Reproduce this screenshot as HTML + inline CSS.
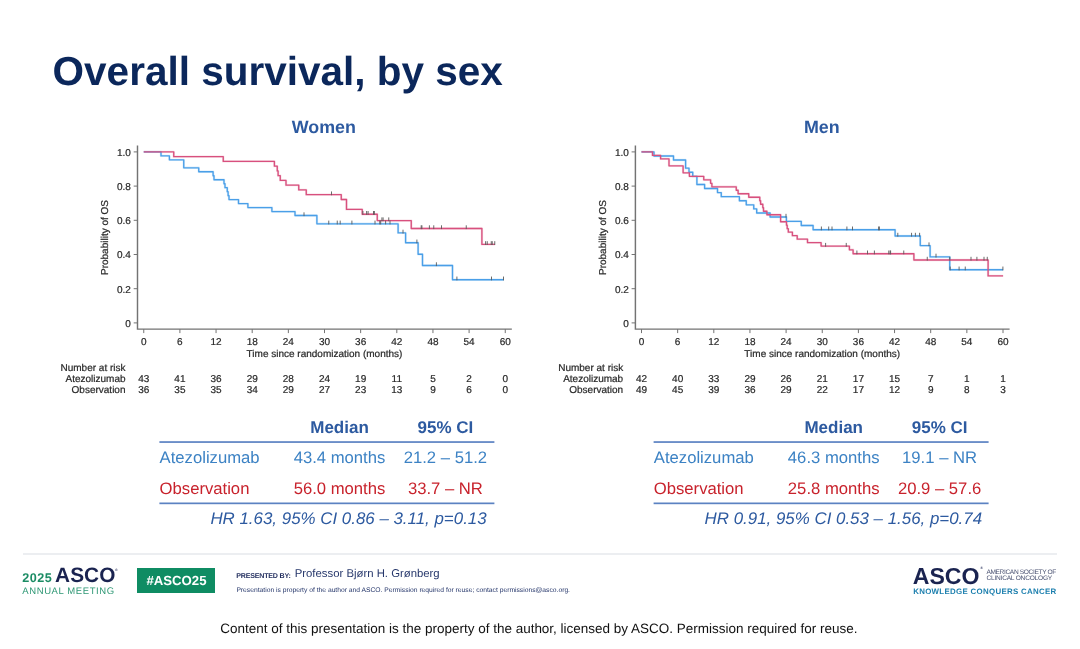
<!DOCTYPE html>
<html lang="en">
<head>
<meta charset="utf-8">
<title>Overall survival, by sex</title>
<style>
html,body{margin:0;padding:0;background:#fff;}
body{width:1080px;height:649px;overflow:hidden;position:relative;text-rendering:geometricPrecision;font-family:"Liberation Sans",Arial,sans-serif;}
#slide{position:absolute;left:0;top:0;width:1080px;height:649px;background:#fff;overflow:hidden;}
.abs{position:absolute;white-space:nowrap;line-height:1;}
h1{position:absolute;left:52.6px;top:50.7px;margin:0;font-size:40.5px;line-height:1;font-weight:700;color:#0b275b;white-space:nowrap;letter-spacing:0;}
.ptitle{font-size:17.85px;font-weight:700;color:#2d5aa0;transform:translateX(-50%);}
svg{position:absolute;left:0;top:0;}
svg text{font-family:"Liberation Sans",Arial,sans-serif;text-rendering:geometricPrecision;}
.ax{font-size:10px;fill:#2a2a2a;stroke:#2a2a2a;stroke-width:0.22px;}
.th{font-size:17px;font-weight:700;color:#2d5aa0;}
.tb{font-size:16.67px;color:#3c82c4;}
.tr{font-size:16.67px;color:#c8222c;}
.hr{font-size:16.9px;font-style:italic;color:#2d5aa0;}
.c{transform:translateX(-50%);}
.rule{position:absolute;height:1.4px;background:#5b82c2;}
.foot{font-size:13.49px;color:#111;}
</style>
</head>
<body>
<div id="slide">
<h1>Overall survival, by sex</h1>
<div class="abs ptitle" style="left:323.9px;top:119px;">Women</div>
<div class="abs ptitle" style="left:821.8px;top:119px;">Men</div>

<svg width="1080" height="649" viewBox="0 0 1080 649">
<path d="M137.5,145.6V329.1H511.85" fill="none" stroke="#737373" stroke-width="1.45"/>
<path d="M137.5,151.90h-3.8M137.5,186.10h-3.8M137.5,220.30h-3.8M137.5,254.50h-3.8M137.5,288.70h-3.8M137.5,322.90h-3.8M143.75,329.1v4M179.90,329.1v4M216.05,329.1v4M252.20,329.1v4M288.35,329.1v4M324.50,329.1v4M360.65,329.1v4M396.80,329.1v4M432.95,329.1v4M469.10,329.1v4M505.25,329.1v4" fill="none" stroke="#737373" stroke-width="1"/>
<text x="130.90" y="155.70" text-anchor="end" class="ax">1.0</text>
<text x="130.90" y="189.90" text-anchor="end" class="ax">0.8</text>
<text x="130.90" y="224.10" text-anchor="end" class="ax">0.6</text>
<text x="130.90" y="258.30" text-anchor="end" class="ax">0.4</text>
<text x="130.90" y="292.50" text-anchor="end" class="ax">0.2</text>
<text x="130.90" y="326.70" text-anchor="end" class="ax">0</text>
<text x="143.75" y="344.7" text-anchor="middle" class="ax">0</text>
<text x="179.90" y="344.7" text-anchor="middle" class="ax">6</text>
<text x="216.05" y="344.7" text-anchor="middle" class="ax">12</text>
<text x="252.20" y="344.7" text-anchor="middle" class="ax">18</text>
<text x="288.35" y="344.7" text-anchor="middle" class="ax">24</text>
<text x="324.50" y="344.7" text-anchor="middle" class="ax">30</text>
<text x="360.65" y="344.7" text-anchor="middle" class="ax">36</text>
<text x="396.80" y="344.7" text-anchor="middle" class="ax">42</text>
<text x="432.95" y="344.7" text-anchor="middle" class="ax">48</text>
<text x="469.10" y="344.7" text-anchor="middle" class="ax">54</text>
<text x="505.25" y="344.7" text-anchor="middle" class="ax">60</text>
<text x="324.50" y="357.3" text-anchor="middle" class="ax">Time since randomization (months)</text>
<text transform="translate(107.50,237.5) rotate(-90)" text-anchor="middle" class="ax">Probability of OS</text>
<path d="M143.75,151.90H161.00V155.88H169.40V159.85H183.75V167.81H198.75V171.78H213.10V175.76H214.00V179.74H224.00V183.71H225.00V187.69H227.25V191.67H228.10V195.64H229.00V199.62H238.50V203.60H247.90V207.57H271.90V211.55H295.00V215.53H316.90V223.80H398.10V232.90H405.60V242.75H418.10V254.20H422.50V265.50H452.50V279.75H503.75" fill="none" stroke="#4a9fe8" stroke-width="2.4" stroke-opacity="0.2" stroke-linejoin="round"/>
<path d="M143.75,151.90H173.75V156.65H223.25V161.40H274.40V166.15H277.25V170.90H278.10V175.65H280.25V180.40H286.00V185.15H298.75V189.90H306.25V194.65H341.25V199.50H346.50V209.40H362.25V214.20H377.25V220.60H411.25V228.50H481.90V244.40H495.00" fill="none" stroke="#d8507e" stroke-width="2.4" stroke-opacity="0.2" stroke-linejoin="round"/>
<path d="M143.75,151.90H161.00V155.88H169.40V159.85H183.75V167.81H198.75V171.78H213.10V175.76H214.00V179.74H224.00V183.71H225.00V187.69H227.25V191.67H228.10V195.64H229.00V199.62H238.50V203.60H247.90V207.57H271.90V211.55H295.00V215.53H316.90V223.80H398.10V232.90H405.60V242.75H418.10V254.20H422.50V265.50H452.50V279.75H503.75" fill="none" stroke="#4a9fe8" stroke-width="1.35" stroke-linejoin="round"/>
<path d="M143.75,151.90H173.75V156.65H223.25V161.40H274.40V166.15H277.25V170.90H278.10V175.65H280.25V180.40H286.00V185.15H298.75V189.90H306.25V194.65H341.25V199.50H346.50V209.40H362.25V214.20H377.25V220.60H411.25V228.50H481.90V244.40H495.00" fill="none" stroke="#d8507e" stroke-width="1.35" stroke-linejoin="round"/>
<path d="M304.00,216.13v-3.80M328.75,224.40v-3.80M337.25,224.40v-3.80M340.20,224.40v-3.80M351.90,224.40v-3.80M375.00,224.40v-3.80M379.75,224.40v-3.80M380.70,224.40v-3.80M385.60,224.40v-3.80M390.00,224.40v-3.80M403.00,233.50v-3.80M416.90,243.35v-3.80M436.40,266.10v-3.80M456.90,280.35v-3.80M491.50,280.35v-3.80M503.50,280.35v-3.80M331.50,195.25v-3.80M362.90,214.80v-3.80M366.60,214.80v-3.80M368.10,214.80v-3.80M373.50,214.80v-3.80M374.40,214.80v-3.80M381.90,221.20v-3.80M383.10,221.20v-3.80M388.75,221.20v-3.80M421.20,229.10v-3.80M421.90,229.10v-3.80M429.40,229.10v-3.80M433.75,229.10v-3.80M441.50,229.10v-3.80M466.25,229.10v-3.80M485.60,245.00v-3.80M487.25,245.00v-3.80M491.25,245.00v-3.80M492.25,245.00v-3.80M494.75,245.00v-3.80" fill="none" stroke="#5a5a5a" stroke-width="0.9"/>
<text x="125.50" y="370.6" text-anchor="end" class="ax">Number at risk</text>
<text x="125.50" y="381.7" text-anchor="end" class="ax">Atezolizumab</text>
<text x="125.50" y="392.9" text-anchor="end" class="ax">Observation</text>
<text x="143.75" y="381.7" text-anchor="middle" class="ax">43</text>
<text x="143.75" y="392.9" text-anchor="middle" class="ax">36</text>
<text x="179.90" y="381.7" text-anchor="middle" class="ax">41</text>
<text x="179.90" y="392.9" text-anchor="middle" class="ax">35</text>
<text x="216.05" y="381.7" text-anchor="middle" class="ax">36</text>
<text x="216.05" y="392.9" text-anchor="middle" class="ax">35</text>
<text x="252.20" y="381.7" text-anchor="middle" class="ax">29</text>
<text x="252.20" y="392.9" text-anchor="middle" class="ax">34</text>
<text x="288.35" y="381.7" text-anchor="middle" class="ax">28</text>
<text x="288.35" y="392.9" text-anchor="middle" class="ax">29</text>
<text x="324.50" y="381.7" text-anchor="middle" class="ax">24</text>
<text x="324.50" y="392.9" text-anchor="middle" class="ax">27</text>
<text x="360.65" y="381.7" text-anchor="middle" class="ax">19</text>
<text x="360.65" y="392.9" text-anchor="middle" class="ax">23</text>
<text x="396.80" y="381.7" text-anchor="middle" class="ax">11</text>
<text x="396.80" y="392.9" text-anchor="middle" class="ax">13</text>
<text x="432.95" y="381.7" text-anchor="middle" class="ax">5</text>
<text x="432.95" y="392.9" text-anchor="middle" class="ax">9</text>
<text x="469.10" y="381.7" text-anchor="middle" class="ax">2</text>
<text x="469.10" y="392.9" text-anchor="middle" class="ax">6</text>
<text x="505.25" y="381.7" text-anchor="middle" class="ax">0</text>
<text x="505.25" y="392.9" text-anchor="middle" class="ax">0</text>
<path d="M635.4,145.6V329.1H1009.60" fill="none" stroke="#737373" stroke-width="1.45"/>
<path d="M635.4,151.90h-3.8M635.4,186.10h-3.8M635.4,220.30h-3.8M635.4,254.50h-3.8M635.4,288.70h-3.8M635.4,322.90h-3.8M641.50,329.1v4M677.65,329.1v4M713.80,329.1v4M749.95,329.1v4M786.10,329.1v4M822.25,329.1v4M858.40,329.1v4M894.55,329.1v4M930.70,329.1v4M966.85,329.1v4M1003.00,329.1v4" fill="none" stroke="#737373" stroke-width="1"/>
<text x="628.80" y="155.70" text-anchor="end" class="ax">1.0</text>
<text x="628.80" y="189.90" text-anchor="end" class="ax">0.8</text>
<text x="628.80" y="224.10" text-anchor="end" class="ax">0.6</text>
<text x="628.80" y="258.30" text-anchor="end" class="ax">0.4</text>
<text x="628.80" y="292.50" text-anchor="end" class="ax">0.2</text>
<text x="628.80" y="326.70" text-anchor="end" class="ax">0</text>
<text x="641.50" y="344.7" text-anchor="middle" class="ax">0</text>
<text x="677.65" y="344.7" text-anchor="middle" class="ax">6</text>
<text x="713.80" y="344.7" text-anchor="middle" class="ax">12</text>
<text x="749.95" y="344.7" text-anchor="middle" class="ax">18</text>
<text x="786.10" y="344.7" text-anchor="middle" class="ax">24</text>
<text x="822.25" y="344.7" text-anchor="middle" class="ax">30</text>
<text x="858.40" y="344.7" text-anchor="middle" class="ax">36</text>
<text x="894.55" y="344.7" text-anchor="middle" class="ax">42</text>
<text x="930.70" y="344.7" text-anchor="middle" class="ax">48</text>
<text x="966.85" y="344.7" text-anchor="middle" class="ax">54</text>
<text x="1003.00" y="344.7" text-anchor="middle" class="ax">60</text>
<text x="822.25" y="357.3" text-anchor="middle" class="ax">Time since randomization (months)</text>
<text transform="translate(606.20,237.5) rotate(-90)" text-anchor="middle" class="ax">Probability of OS</text>
<path d="M641.50,151.90H654.00V155.97H673.50V160.04H685.60V168.19H689.00V172.26H692.75V176.33H696.90V184.47H704.60V188.54H717.50V192.61H721.25V196.69H739.40V200.76H746.25V204.83H753.75V208.90H756.70V212.97H770.10V217.04H786.40V221.30H801.25V225.45H813.10V229.70H895.10V236.00H920.25V245.60H930.10V256.90H949.75V269.75H1003.10" fill="none" stroke="#4a9fe8" stroke-width="2.4" stroke-opacity="0.2" stroke-linejoin="round"/>
<path d="M641.50,151.90H652.50V155.39H660.60V158.88H669.00V165.86H683.10V172.84H689.40V176.33H703.75V179.82H710.60V183.31H711.90V186.80H736.25V190.29H738.10V193.78H748.75V197.27H759.80V200.76H760.60V204.25H762.80V207.74H763.50V211.23H766.90V214.72H780.60V221.70H786.50V225.19H787.20V228.68H788.30V232.17H792.40V235.66H797.20V239.14H807.50V242.63H821.10V246.12H849.40V249.80H853.10V253.70H913.90V260.00H988.10V275.90H1003.10" fill="none" stroke="#d8507e" stroke-width="2.4" stroke-opacity="0.2" stroke-linejoin="round"/>
<path d="M641.50,151.90H654.00V155.97H673.50V160.04H685.60V168.19H689.00V172.26H692.75V176.33H696.90V184.47H704.60V188.54H717.50V192.61H721.25V196.69H739.40V200.76H746.25V204.83H753.75V208.90H756.70V212.97H770.10V217.04H786.40V221.30H801.25V225.45H813.10V229.70H895.10V236.00H920.25V245.60H930.10V256.90H949.75V269.75H1003.10" fill="none" stroke="#4a9fe8" stroke-width="1.35" stroke-linejoin="round"/>
<path d="M641.50,151.90H652.50V155.39H660.60V158.88H669.00V165.86H683.10V172.84H689.40V176.33H703.75V179.82H710.60V183.31H711.90V186.80H736.25V190.29H738.10V193.78H748.75V197.27H759.80V200.76H760.60V204.25H762.80V207.74H763.50V211.23H766.90V214.72H780.60V221.70H786.50V225.19H787.20V228.68H788.30V232.17H792.40V235.66H797.20V239.14H807.50V242.63H821.10V246.12H849.40V249.80H853.10V253.70H913.90V260.00H988.10V275.90H1003.10" fill="none" stroke="#d8507e" stroke-width="1.35" stroke-linejoin="round"/>
<path d="M786.00,217.64v-3.80M821.40,230.30v-3.80M828.70,230.30v-3.80M832.00,230.30v-3.80M846.90,230.30v-3.80M852.50,230.30v-3.80M878.60,230.30v-3.80M879.40,230.30v-3.80M897.80,236.60v-3.80M911.55,236.60v-3.80M915.40,236.60v-3.80M919.60,236.60v-3.80M929.00,246.20v-3.80M936.00,257.50v-3.80M950.20,270.35v-3.80M959.10,270.35v-3.80M965.25,270.35v-3.80M1002.90,270.35v-3.80M825.60,246.72v-3.80M846.25,246.72v-3.80M856.90,254.30v-3.80M867.50,254.30v-3.80M874.40,254.30v-3.80M888.75,254.30v-3.80M890.10,254.30v-3.80M890.60,254.30v-3.80M903.75,254.30v-3.80M927.25,260.60v-3.80M949.75,260.60v-3.80M971.00,260.60v-3.80M976.90,260.60v-3.80M984.00,260.60v-3.80M987.25,260.60v-3.80" fill="none" stroke="#5a5a5a" stroke-width="0.9"/>
<text x="623.20" y="370.6" text-anchor="end" class="ax">Number at risk</text>
<text x="623.20" y="381.7" text-anchor="end" class="ax">Atezolizumab</text>
<text x="623.20" y="392.9" text-anchor="end" class="ax">Observation</text>
<text x="641.50" y="381.7" text-anchor="middle" class="ax">42</text>
<text x="641.50" y="392.9" text-anchor="middle" class="ax">49</text>
<text x="677.65" y="381.7" text-anchor="middle" class="ax">40</text>
<text x="677.65" y="392.9" text-anchor="middle" class="ax">45</text>
<text x="713.80" y="381.7" text-anchor="middle" class="ax">33</text>
<text x="713.80" y="392.9" text-anchor="middle" class="ax">39</text>
<text x="749.95" y="381.7" text-anchor="middle" class="ax">29</text>
<text x="749.95" y="392.9" text-anchor="middle" class="ax">36</text>
<text x="786.10" y="381.7" text-anchor="middle" class="ax">26</text>
<text x="786.10" y="392.9" text-anchor="middle" class="ax">29</text>
<text x="822.25" y="381.7" text-anchor="middle" class="ax">21</text>
<text x="822.25" y="392.9" text-anchor="middle" class="ax">22</text>
<text x="858.40" y="381.7" text-anchor="middle" class="ax">17</text>
<text x="858.40" y="392.9" text-anchor="middle" class="ax">17</text>
<text x="894.55" y="381.7" text-anchor="middle" class="ax">15</text>
<text x="894.55" y="392.9" text-anchor="middle" class="ax">12</text>
<text x="930.70" y="381.7" text-anchor="middle" class="ax">7</text>
<text x="930.70" y="392.9" text-anchor="middle" class="ax">9</text>
<text x="966.85" y="381.7" text-anchor="middle" class="ax">1</text>
<text x="966.85" y="392.9" text-anchor="middle" class="ax">8</text>
<text x="1003.00" y="381.7" text-anchor="middle" class="ax">1</text>
<text x="1003.00" y="392.9" text-anchor="middle" class="ax">3</text>
<rect x="159.4" y="441.2" width="335" height="1.7" fill="#5b82c2"/>
<rect x="159.4" y="502.5" width="335" height="1.7" fill="#5b82c2"/>
<rect x="653.6" y="441.2" width="335" height="1.7" fill="#5b82c2"/>
<rect x="653.6" y="502.5" width="335" height="1.7" fill="#5b82c2"/>
</svg>

<!-- left table -->
<div class="abs th c" style="left:339.5px;top:418.9px;">Median</div>
<div class="abs th c" style="left:445.4px;top:418.9px;">95% CI</div>
<div class="abs tb" style="left:159.6px;top:450.1px;">Atezolizumab</div>
<div class="abs tb c" style="left:339.5px;top:450.1px;">43.4 months</div>
<div class="abs tb c" style="left:445.4px;top:450.1px;">21.2 – 51.2</div>
<div class="abs tr" style="left:159.6px;top:480.9px;">Observation</div>
<div class="abs tr c" style="left:339.5px;top:480.9px;">56.0 months</div>
<div class="abs tr c" style="left:445.4px;top:480.9px;">33.7 – NR</div>
<div class="abs hr" style="left:210.4px;top:510.8px;">HR 1.63, 95% CI 0.86 – 3.11, p=0.13</div>

<!-- right table -->
<div class="abs th c" style="left:833.7px;top:418.9px;">Median</div>
<div class="abs th c" style="left:939.6px;top:418.9px;">95% CI</div>
<div class="abs tb" style="left:653.8px;top:450.1px;">Atezolizumab</div>
<div class="abs tb c" style="left:833.7px;top:450.1px;">46.3 months</div>
<div class="abs tb c" style="left:939.6px;top:450.1px;">19.1 – NR</div>
<div class="abs tr" style="left:653.8px;top:480.9px;">Observation</div>
<div class="abs tr c" style="left:833.7px;top:480.9px;">25.8 months</div>
<div class="abs tr c" style="left:939.6px;top:480.9px;">20.9 – 57.6</div>
<div class="abs hr" style="left:704.6px;top:510.8px;">HR 0.91, 95% CI 0.53 – 1.56, p=0.74</div>

<!-- footer -->
<div style="position:absolute;left:22.5px;top:553px;width:1034.5px;height:2px;background:#eceef1;"></div>
<div class="abs" style="left:22.3px;top:572.1px;font-size:12.6px;font-weight:700;color:#1b8c64;letter-spacing:0.45px;">2025</div>
<div class="abs" style="left:55.1px;top:566px;font-size:20.8px;font-weight:700;color:#1a2350;letter-spacing:0.05px;">ASCO</div>
<div class="abs" style="left:115px;top:568.6px;font-size:3.5px;color:#1a2350;">®</div>
<div class="abs" style="left:22.3px;top:586.6px;font-size:9.5px;color:#2f9875;letter-spacing:0.6px;">ANNUAL MEETING</div>
<div style="position:absolute;left:137.3px;top:567.8px;width:78px;height:25.2px;background:#0f8c63;"></div>
<div class="abs" style="left:146.4px;top:573.7px;font-size:13.2px;font-weight:700;color:#fff;">#ASCO25</div>
<div class="abs" style="left:236.2px;top:572.8px;font-size:7.1px;font-weight:700;color:#1f2b5c;letter-spacing:-0.2px;">PRESENTED BY:</div>
<div class="abs" style="left:294.7px;top:569.3px;font-size:11.35px;color:#26376b;">Professor Bjørn H. Grønberg</div>
<div class="abs" style="left:236.4px;top:588.1px;font-size:6.72px;color:#26376b;">Presentation is property of the author and ASCO. Permission required for reuse; contact permissions@asco.org.</div>
<div class="abs" style="left:912.7px;top:564.6px;font-size:23.1px;font-weight:700;color:#1a2350;letter-spacing:0.05px;">ASCO</div>
<div class="abs" style="left:980.2px;top:567.4px;font-size:3.5px;color:#1a2350;">®</div>
<div class="abs" style="left:986.4px;top:569.5px;font-size:6.6px;color:#4a5272;letter-spacing:-0.36px;">AMERICAN SOCIETY OF</div>
<div class="abs" style="left:986.4px;top:576.1px;font-size:6.6px;color:#4a5272;letter-spacing:-0.22px;">CLINICAL ONCOLOGY</div>
<div class="abs" style="left:913.2px;top:588.2px;font-size:7.9px;font-weight:700;color:#1c7fae;letter-spacing:0.3px;">KNOWLEDGE CONQUERS CANCER</div>
<div class="abs foot" style="left:220.3px;top:622.2px;">Content of this presentation is the property of the author, licensed by ASCO. Permission required for reuse.</div>
</div>
</body>
</html>
